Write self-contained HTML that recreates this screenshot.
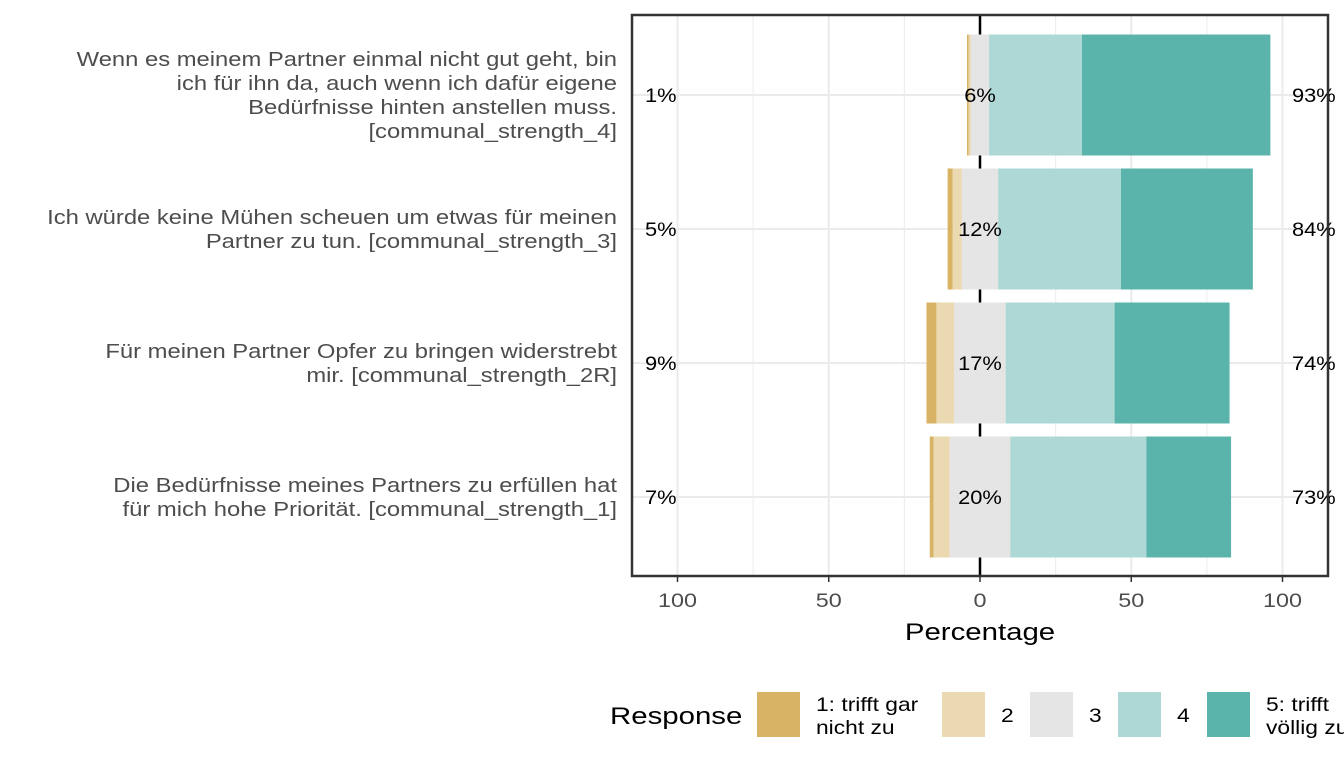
<!DOCTYPE html>
<html><head><meta charset="utf-8"><style>
body{margin:0;background:#fff;font-family:"Liberation Sans",sans-serif}
svg text{font-family:"Liberation Sans",sans-serif}
</style></head><body>
<svg id="c" width="1344" height="768"></svg>
<script>
const labels=[
 ["Wenn es meinem Partner einmal nicht gut geht, bin","ich für ihn da, auch wenn ich dafür eigene","Bedürfnisse hinten anstellen muss.","[communal_strength_4]"],
 ["Ich würde keine Mühen scheuen um etwas für meinen","Partner zu tun. [communal_strength_3]"],
 ["Für meinen Partner Opfer zu bringen widerstrebt","mir. [communal_strength_2R]"],
 ["Die Bedürfnisse meines Partners zu erfüllen hat","für mich hohe Priorität. [communal_strength_1]"]];
const r1=[0.5,1.7,3.3,1.3];
const r2=[0.8,3.0,5.9,5.3];
const r3=[6,12,17,20];
const r4=[30.7,40.6,36,45];
const r5=[62.3,43.6,38,28];
const leftLbl=["1%","5%","9%","7%"];
const midLbl=["6%","12%","17%","20%"];
const rightLbl=["93%","84%","74%","73%"];
const ticks=[-100,-50,0,50,100];
const tickText=["100","50","0","50","100"];
const colors=["#D8B365","#EBD9B2","#E5E5E5","#ADD8D5","#5AB4AC"];
const legendText=[["1: trifft gar","nicht zu"],["2"],["3"],["4"],["5: trifft","völlig zu"]];
const NS="http://www.w3.org/2000/svg",svg=document.getElementById('c');
function el(t,a,p){const e=document.createElementNS(NS,t);for(const k in a)e.setAttribute(k,a[k]);(p||svg).appendChild(e);return e;}
function txt(x,y,size,anchor,fill,s,sx){const e=el('text',{x:0,y:0,'font-size':size,'text-anchor':anchor,fill:fill,transform:`translate(${x},${y}) scale(${sx||1.2},1)`});e.textContent=s;return e;}
const X=v=>980+v*3.025;
const Y=i=>95+i*134;
const bh=121;
for(let v=-100;v<=100;v+=25){const g=el('line',{x1:X(v),x2:X(v),y1:15,y2:576,stroke:'#ebebeb','stroke-width':v%50?1:2});
}
for(let i=0;i<4;i++){const g=el('line',{x1:632,x2:1328,y1:Y(i),y2:Y(i),stroke:'#ebebeb','stroke-width':2});
}
const zl=el('line',{x1:X(0),x2:X(0),y1:15,y2:576,stroke:'#000','stroke-width':2.5});

for(let i=0;i<4;i++){
 const vals=[r1[i],r2[i],r3[i],r4[i],r5[i]];
 let start=-(r1[i]+r2[i]+r3[i]/2);
 vals.forEach((v,k)=>{const r=el('rect',{x:X(start),y:Y(i)-bh/2,width:v*3.025,height:bh,fill:colors[k]});
  start+=v;});
}
for(let i=0;i<4;i++){
 [[645,leftLbl[i],'start'],[X(0),midLbl[i],'middle'],[1292,rightLbl[i],'start']].forEach(([x,t,a])=>{
  const e=txt(x,Y(i)+7,19,a,'#000',t,1.15);
  });
 const L=labels[i],n=L.length;
 L.forEach((s,j)=>{const e=txt(617,Y(i)+7+(j-(n-1)/2)*24,20,'end','#4d4d4d',s,1.19);
  });
}
const fr=el('rect',{x:632,y:15,width:696,height:561,fill:'none',stroke:'#333','stroke-width':2.5});

ticks.forEach((v,k)=>{el('line',{x1:X(v),x2:X(v),y1:576,y2:582,stroke:'#333','stroke-width':1.5});
 const t=txt(X(v),607,19.5,'middle','#4d4d4d',tickText[k],1.2);
 });
const xt=txt(X(0),640,24.5,'middle','#000','Percentage',1.2);

const lt=txt(610,724,24.5,'start','#000','Response',1.2);

const kx=[757,942,1030,1118,1207];
kx.forEach((x,k)=>{const r=el('rect',{x:x,y:692,width:43,height:45,fill:colors[k]});
 
 const L=legendText[k];
 L.forEach((s,j)=>{const t=txt(x+59,(L.length>1?711+j*23:722),19.5,'start','#000',s,1.17);
  });
});
</script></body></html>
